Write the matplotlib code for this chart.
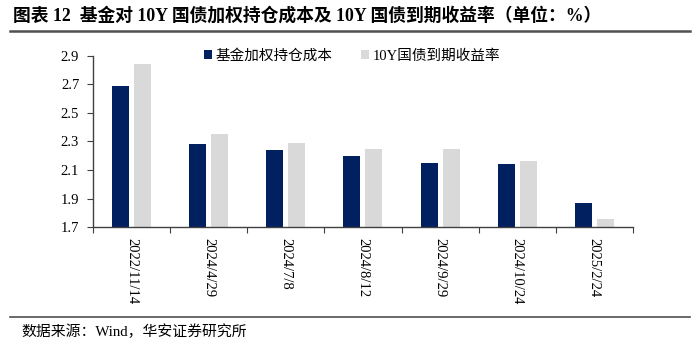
import numpy as np
import matplotlib
matplotlib.use("Agg")
import matplotlib.pyplot as plt

plt.rcParams['font.family'] = ['Liberation Serif', 'Noto Sans CJK SC', 'DejaVu Sans']

# 数据
dates = ["2022/11/14", "2024/4/29", "2024/7/8", "2024/8/12", "2024/9/29", "2024/10/24", "2025/2/24"]
fund_cost = [2.69, 2.28, 2.24, 2.20, 2.15, 2.145, 1.87]
bond_ytm = [2.84, 2.35, 2.29, 2.25, 2.25, 2.165, 1.76]
yticks = [1.7, 1.9, 2.1, 2.3, 2.5, 2.7, 2.9]

navy = "#002060"
grey = "#D9D9D9"
axis_col = "#404040"

fig = plt.figure(figsize=(7, 3.45), dpi=100)
ax = fig.add_axes([0.133, 0.341, 0.771, 0.498])

x = np.arange(len(dates))
w = 0.22
gap = 0.065
ax.bar(x - (w + gap) / 2, fund_cost, width=w, color=navy, label="基金加权持仓成本")
ax.bar(x + (w + gap) / 2, bond_ytm, width=w, color=grey, label="10Y国债到期收益率")

ax.set_xlim(-0.5, len(dates) - 0.5)
ax.set_ylim(1.7, 2.9)
ax.set_yticks(yticks)
ax.set_yticklabels([f"{v:.1f}" for v in yticks], fontsize=10.5)

# x 轴刻度画在类别分界处，标签放在中间
ax.set_xticks(np.arange(len(dates) + 1) - 0.5)
ax.set_xticklabels([])
ax.set_xticks(x, minor=True)
ax.set_xticklabels(dates, minor=True, rotation=270, fontsize=10.5)
ax.tick_params(axis='x', which='minor', length=0, pad=8)
ax.tick_params(axis='x', which='major', length=4, direction='out', color=axis_col)
ax.tick_params(axis='y', length=4, direction='out', color=axis_col, pad=6)

for s in ["top", "right"]:
    ax.spines[s].set_visible(False)
for s in ["left", "bottom"]:
    ax.spines[s].set_color(axis_col)
    ax.spines[s].set_linewidth(1.0)

ax.legend(loc="upper center", bbox_to_anchor=(0.48, 1.115), ncol=2, frameon=False,
          fontsize=10.5, handlelength=0.55, handleheight=0.55, handletextpad=0.3,
          columnspacing=1.9)

# 标题和来源
fig.text(0.018, 0.954, "图表 12  基金对 10Y 国债加权持仓成本及 10Y 国债到期收益率（单位：%）",
         fontsize=12.8, fontweight="bold", va="center", ha="left")
fig.add_artist(plt.Line2D([0.014, 0.986], [0.911, 0.911], color="#505050", lw=1.8))
fig.add_artist(plt.Line2D([0.014, 0.986], [0.082, 0.082], color="#505050", lw=1.2))
fig.text(0.03, 0.038, "数据来源：Wind，华安证券研究所", fontsize=10.7, va="center", ha="left")

fig.savefig("out.png", dpi=100)
